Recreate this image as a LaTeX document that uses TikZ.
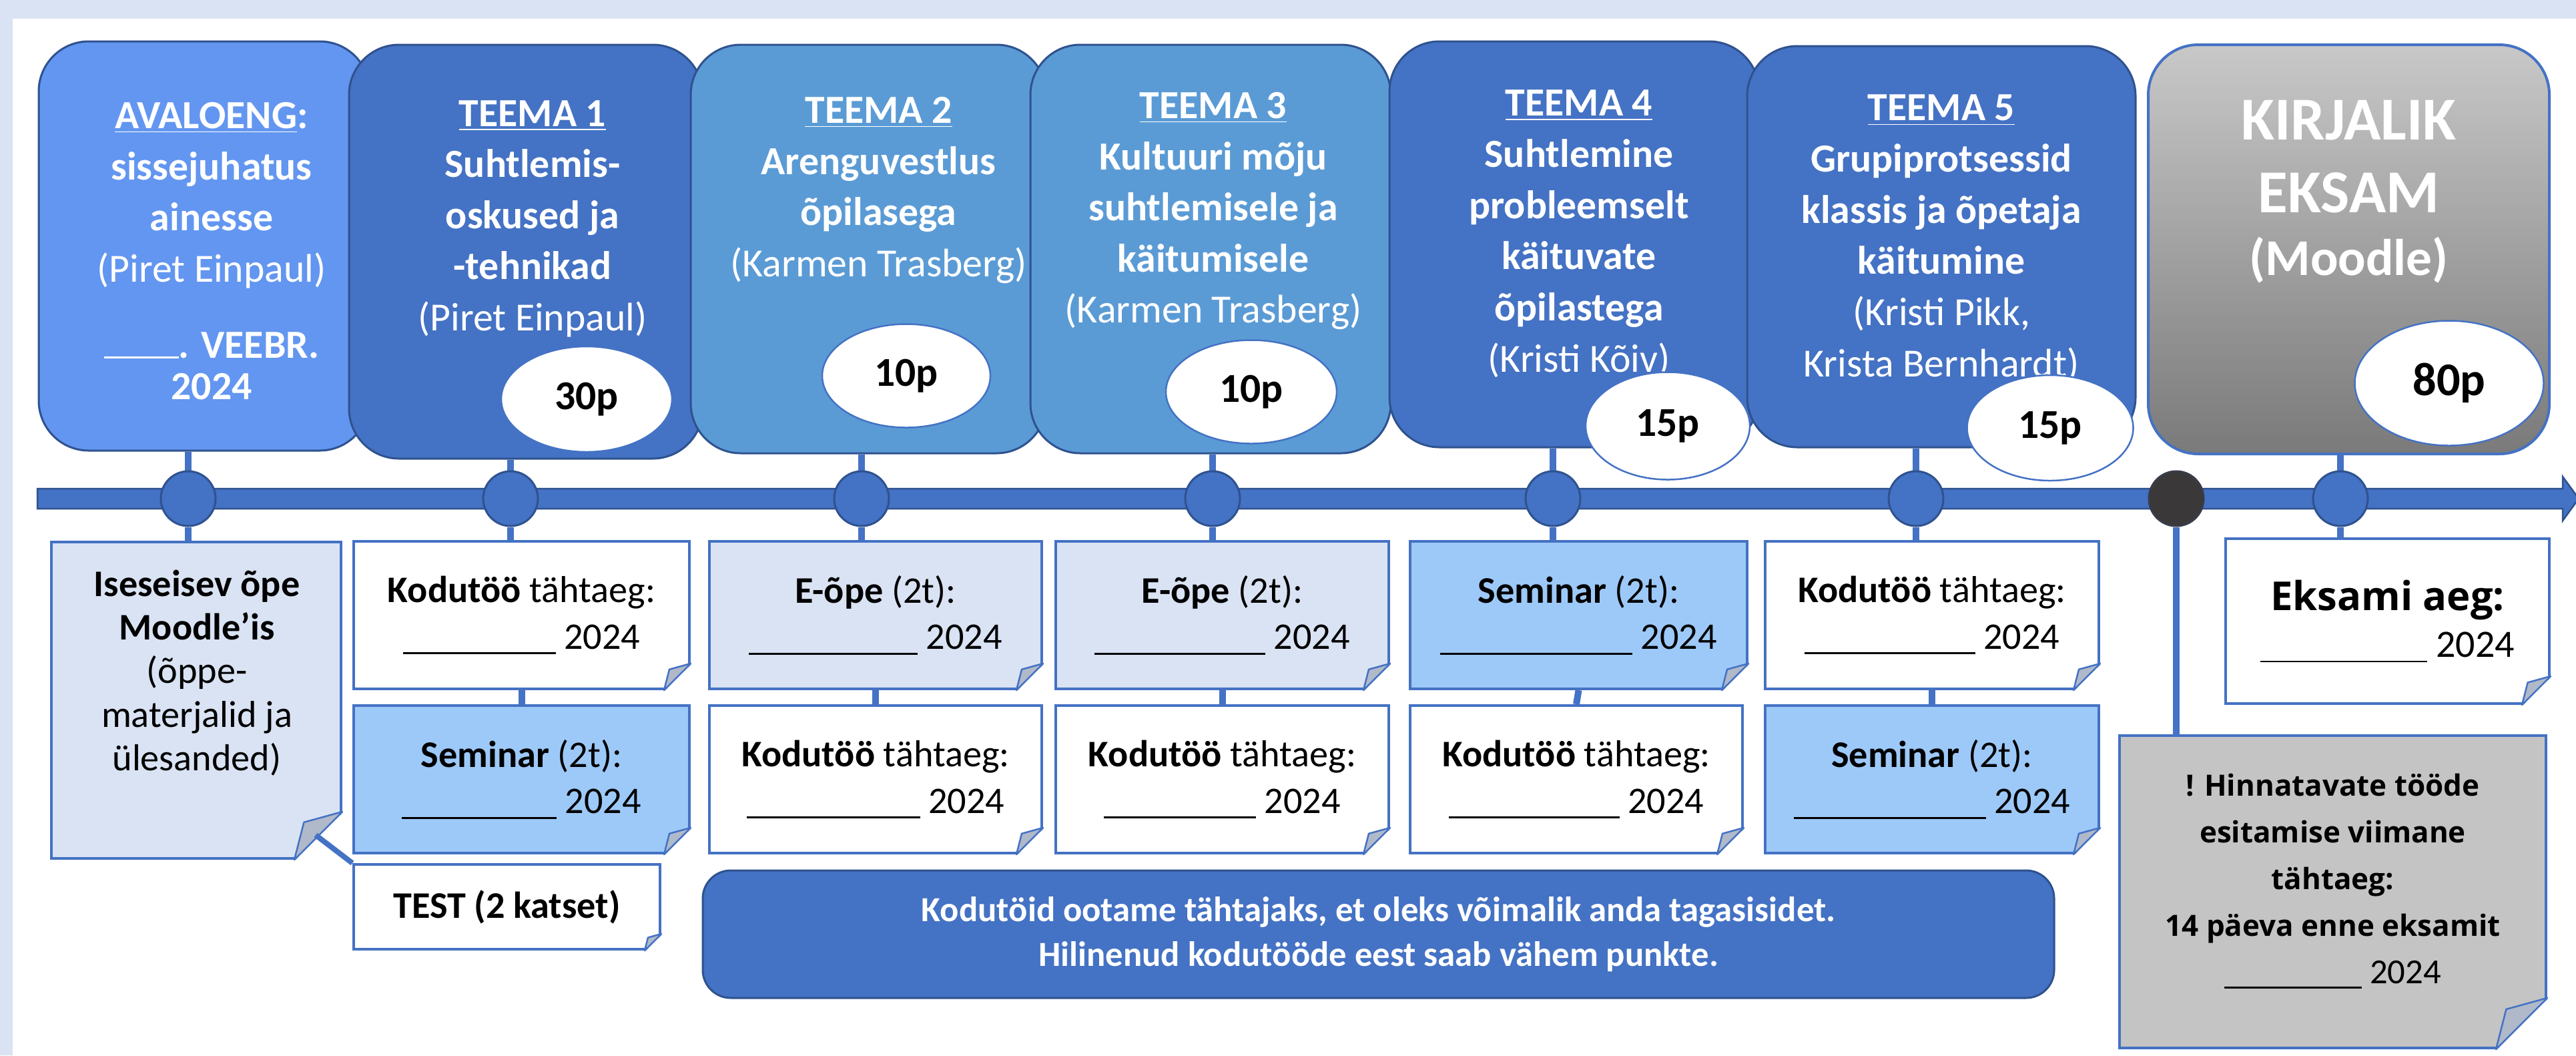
\documentclass[tikz,border=0pt]{standalone}
\usepackage{fontspec}
\setmainfont{Carlito}
\newfontfamily\segoe{Open Sans}
\usetikzlibrary{positioning,calc,shapes.geometric,backgrounds}

% colours
\definecolor{pagebg}{RGB}{218,227,243}
\definecolor{avablue}{RGB}{99,150,240}
\definecolor{darkblue}{RGB}{68,114,196}
\definecolor{midblue}{RGB}{91,155,213}
\definecolor{edgeblue}{RGB}{47,82,143}
\definecolor{notelight}{RGB}{218,227,243}
\definecolor{seminarblue}{RGB}{157,201,248}
\definecolor{foldgray}{RGB}{176,185,202}
\definecolor{notegray}{RGB}{196,196,196}
\definecolor{examtop}{RGB}{200,200,200}
\definecolor{exambottom}{RGB}{122,122,122}
\definecolor{darkdot}{RGB}{58,56,56}

% blank date line
\newcommand{\dateblank}[1][2.5cm]{\rule[-0.14em]{#1}{0.05em}}
% folded corner at the south east of a note node: name, size
\newcommand{\dogear}[2]{%
  \fill[white] ($(#1.south east)+(0.03,-0.03)$) -- ($(#1.south east)+(-#2-0.01,-0.03)$) -- ($(#1.south east)+(0.03,#2+0.01)$) -- cycle;
  \filldraw[foldflap] ($(#1.south east)+(0,#2)$) -- ($(#1.south east)+(-0.8*#2,0.78*#2)$) -- ($(#1.south east)+(-#2,0)$) -- cycle;
}

\begin{document}
\begin{tikzpicture}[
    % --- styles ---
    topbox/.style={rectangle, draw=edgeblue, line width=0.03cm, rounded corners=0.75cm, inner sep=0},
    toptext/.style={text=white, font=\fontsize{17}{21.8}\selectfont\bfseries, align=center, inner sep=0, anchor=north},
    points/.style={ellipse, draw=darkblue, line width=0.025cm, fill=white, inner sep=0, font=\fontsize{17.5}{21}\selectfont\bfseries},
    dot/.style={circle, draw=edgeblue, line width=0.03cm, fill=darkblue, minimum size=0.82cm, inner sep=0},
    stem/.style={darkblue, line width=0.1cm},
    note/.style={rectangle, draw=darkblue, line width=0.04cm, inner sep=0, align=center, font=\fontsize{16}{19.8}\selectfont},
    foldflap/.style={draw=darkblue, line width=0.025cm, fill=foldgray, line join=round}
]

    % --- 0. page ---
    \begin{scope}[on background layer]
        \fill[pagebg] (0,0) rectangle (38.6,-15.81);
        \fill[white] (0.19,-0.28) rectangle (38.6,-15.81);
    \end{scope}
    \useasboundingbox (0,0) rectangle (38.6,-15.81);

    % --- 1. topic boxes ---
    \node[topbox, fill=avablue, minimum width=4.96cm, minimum height=6.13cm] (ava) at (3.06,-3.685) {};
    \node[topbox, fill=darkblue, minimum width=5.30cm, minimum height=6.20cm] (t1) at (7.88,-3.77) {};
    \node[topbox, fill=midblue, minimum width=5.33cm, minimum height=6.12cm] (t2) at (13.015,-3.73) {};
    \node[topbox, fill=midblue, minimum width=5.40cm, minimum height=6.12cm] (t3) at (18.14,-3.73) {};
    \node[topbox, fill=darkblue, minimum width=5.54cm, minimum height=6.08cm] (t4) at (23.59,-3.66) {};
    \node[topbox, fill=darkblue, minimum width=5.82cm, minimum height=6.01cm] (t5) at (29.09,-3.695) {};
    \node[topbox, draw=darkblue, line width=0.04cm, top color=examtop, bottom color=exambottom, minimum width=6.01cm, minimum height=6.13cm] (ex) at (35.195,-3.735) {};

    \node[toptext] (ava_txt) at ($(ava.north)+(0.11,-0.92)$) {\underline{AVALOENG}:\\ sissejuhatus\\ ainesse\\ {\mdseries (Piret Einpaul)}\\[0.38cm] \rule{1.12cm}{0.03cm}. VEEBR.\\[-0.15cm] 2024};
    \node[toptext] (t1_txt) at ($(t1.north)+(0.10,-0.84)$) {\underline{TEEMA 1}\\ Suhtlemis-\\ oskused ja\\ -tehnikad\\ {\mdseries (Piret Einpaul)}};
    \node[toptext] (t2_txt) at ($(t2.north)+(0.15,-0.79)$) {\underline{TEEMA 2}\\ Arenguvestlus\\ õpilasega\\ {\mdseries (Karmen Trasberg)}};
    \node[toptext] (t3_txt) at ($(t3.north)+(0.04,-0.72)$) {\underline{TEEMA 3}\\ Kultuuri mõju\\ suhtlemisele ja\\ käitumisele\\ {\mdseries (Karmen Trasberg)}};
    \node[toptext] (t4_txt) at ($(t4.north)+(0.07,-0.74)$) {\underline{TEEMA 4}\\ Suhtlemine\\ probleemselt\\ käituvate\\ õpilastega\\ {\mdseries (Kristi Kõiv)}};
    \node[toptext] (t5_txt) at ($(t5.north)+(0,-0.74)$) {\underline{TEEMA 5}\\ Grupiprotsessid\\ klassis ja õpetaja\\ käitumine\\ {\mdseries (Kristi Pikk,}\\ {\mdseries Krista Bernhardt)}};
    \node[toptext, font=\fontsize{26}{31}\selectfont\bfseries] (ex_txt) at ($(ex.north)+(0,-0.85)$) {KIRJALIK\\ EKSAM\\[-0.15cm] {\fontsize{22}{26}\selectfont (Moodle)}};

    % points
    \node[points, minimum width=2.56cm, minimum height=1.58cm] (p1) at (8.79,-5.98) {30p};
    \node[points, minimum width=2.52cm, minimum height=1.55cm] (p2) at (13.58,-5.63) {10p};
    \node[points, minimum width=2.56cm, minimum height=1.55cm] (p3) at (18.75,-5.87) {10p};
    \node[points, minimum width=2.46cm, minimum height=1.61cm] (p4) at (24.99,-6.38) {15p};
    \node[points, minimum width=2.49cm, minimum height=1.58cm] (p5) at (30.72,-6.41) {15p};
    \node[points, minimum width=2.83cm, minimum height=1.87cm, font=\fontsize{20}{24}\selectfont\bfseries] (p6) at (36.70,-5.74) {80p};

    % --- 2. timeline ---
    \coordinate (tl_start) at (0.56,-7.47);
    \coordinate (tl_end) at (38.40,-7.47);
    \filldraw[fill=darkblue, draw=edgeblue, line width=0.025cm] ($(tl_start)+(0,0.15)$) -- ($(tl_end)+(0,0.15)$) -- ($(tl_end)+(0,0.33)$) -- ($(tl_end)+(0.24,0)$) -- ($(tl_end)+(0,-0.33)$) -- ($(tl_end)+(0,-0.15)$) -- ($(tl_start)+(0,-0.15)$) -- cycle;

    \node[dot] (c0) at (2.82,-7.47) {};
    \node[dot] (c1) at (7.65,-7.47) {};
    \node[dot] (c2) at (12.91,-7.47) {};
    \node[dot] (c3) at (18.17,-7.47) {};
    \node[dot] (c4) at (23.27,-7.47) {};
    \node[dot] (c5) at (28.71,-7.47) {};
    \node[dot, fill=darkdot, draw=darkdot!80!edgeblue] (c6) at (32.61,-7.47) {};
    \node[dot] (c7) at (35.07,-7.47) {};

    % --- 3. notes under the timeline ---
    \node[note, fill=notelight, minimum width=4.34cm, minimum height=4.74cm] (n0) at (2.94,-10.49) {};
    \node[anchor=north, align=center, inner sep=0, font=\fontsize{16}{18.6}\selectfont] (n0_txt) at ($(n0.north)+(0.01,-0.43)$) {\textbf{Iseseisev õpe}\\ \textbf{Moodle’is}\\ (õppe-\\ materjalid ja\\ ülesanded)};

    \node[note, fill=white, minimum width=5.03cm, minimum height=2.21cm] (n1a) at (7.815,-9.215) {\textbf{Kodutöö} tähtaeg:\\ \dateblank[2.29cm] 2024};
    \node[note, fill=seminarblue, minimum width=5.03cm, minimum height=2.21cm] (n1b) at (7.815,-11.675) {\textbf{Seminar} (2t):\\ \dateblank[2.32cm] 2024};
    \node[note, fill=white, minimum width=4.59cm, minimum height=1.27cm] (test) at (7.595,-13.585) {\textbf{TEST (2 katset)}};

    \node[note, fill=notelight, minimum width=4.98cm, minimum height=2.21cm] (n2a) at (13.12,-9.215) {\textbf{E-õpe} (2t):\\ \dateblank[2.53cm] 2024};
    \node[note, fill=white, minimum width=4.98cm, minimum height=2.21cm] (n2b) at (13.12,-11.675) {\textbf{Kodutöö} tähtaeg:\\ \dateblank[2.6cm] 2024};

    \node[note, fill=notelight, minimum width=4.99cm, minimum height=2.21cm] (n3a) at (18.315,-9.215) {\textbf{E-õpe} (2t):\\ \dateblank[2.56cm] 2024};
    \node[note, fill=white, minimum width=4.99cm, minimum height=2.21cm] (n3b) at (18.315,-11.675) {\textbf{Kodutöö} tähtaeg:\\ \dateblank[2.28cm] 2024};

    \node[note, fill=seminarblue, minimum width=5.05cm, minimum height=2.21cm] (n4a) at (23.655,-9.215) {\textbf{Seminar} (2t):\\ \dateblank[2.88cm] 2024};
    \node[note, fill=white, minimum width=4.98cm, minimum height=2.21cm] (n4b) at (23.62,-11.675) {\textbf{Kodutöö} tähtaeg:\\ \dateblank[2.56cm] 2024};

    \node[note, fill=white, minimum width=5.00cm, minimum height=2.21cm] (n5a) at (28.95,-9.215) {\textbf{Kodutöö} tähtaeg:\\ \dateblank[2.56cm] 2024};
    \node[note, fill=seminarblue, minimum width=5.00cm, minimum height=2.21cm] (n5b) at (28.95,-11.675) {\textbf{Seminar} (2t):\\ \dateblank[2.88cm] 2024};

    \node[note, fill=white, minimum width=4.85cm, minimum height=2.47cm, font=\fontsize{16.5}{20}\selectfont] (exa) at (35.775,-9.305) {{\segoe\bfseries\fontsize{17}{21}\selectfont Eksami aeg:}\\ \dateblank[2.5cm] 2024};

    \node[note, fill=notegray, minimum width=6.39cm, minimum height=4.68cm] (gray) at (34.955,-13.36) {};
    \node[anchor=north, align=center, inner sep=0, font=\segoe\bfseries\fontsize{12.5}{20}\selectfont] (gray_txt) at ($(gray.north)+(0,-0.58)$) {! Hinnatavate tööde\\ esitamise viimane\\ tähtaeg:\\ 14 päeva enne eksamit\\ {\rmfamily\mdseries\fontsize{15}{19}\selectfont\dateblank[2.06cm] 2024}};

    % info bar
    \node[rectangle, rounded corners=0.42cm, draw=edgeblue, line width=0.03cm, fill=darkblue, minimum width=20.25cm, minimum height=1.91cm, text=white, align=center, font=\fontsize{15}{19}\selectfont\bfseries] (info) at (20.655,-13.995) {Kodutöid ootame tähtajaks, et oleks võimalik anda tagasisidet.\\ Hilinenud kodutööde eest saab vähem punkte.};

    % folded corners
    \dogear{n0}{0.72}
    \dogear{n1a}{0.40} \dogear{n1b}{0.40}
    \dogear{n2a}{0.40} \dogear{n2b}{0.40}
    \dogear{n3a}{0.40} \dogear{n3b}{0.40}
    \dogear{n4a}{0.40} \dogear{n4b}{0.40}
    \dogear{n5a}{0.40} \dogear{n5b}{0.40}
    \dogear{test}{0.25}
    \dogear{exa}{0.43}
    \dogear{gray}{0.77}

    % --- 4. connectors ---
    \coordinate (n0_fold) at ($(n0.south east)+(-0.40,0.37)$);
    \draw[stem, line width=0.08cm] (n0_fold) -- (test.north west);

    \begin{scope}[on background layer]
        \foreach \d/\b in {c0/ava, c1/t1, c2/t2, c3/t3, c4/t4, c5/t5, c7/ex}
            \draw[stem] (\d |- \b.south) -- (\d);
        \foreach \d/\n in {c0/n0, c1/n1a, c2/n2a, c3/n3a, c4/n4a, c5/n5a, c6/gray, c7/exa}
            \draw[stem] (\d) -- (\d |- \n.north);
        \foreach \a/\b in {n1a/n1b, n2a/n2b, n3a/n3b, n4a/n4b, n5a/n5b}
            \draw[stem] (\a.south) -- (\b.north);
    \end{scope}

\end{tikzpicture}
\end{document}
